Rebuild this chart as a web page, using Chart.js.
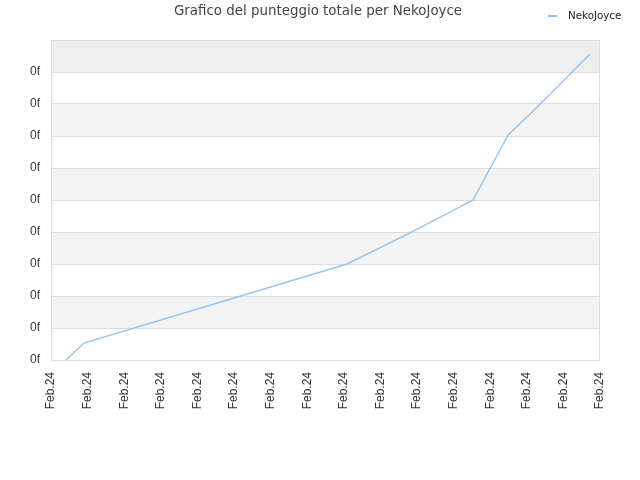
<!DOCTYPE html>
<html>
<head>
<meta charset="utf-8">
<script src="https://cdn.jsdelivr.net/npm/chart.js@4/dist/chart.umd.min.js"></script>
<style>
html,body{margin:0;padding:0;background:#fff;}
#wrap{width:640px;height:480px;}
</style>
</head>
<body>
<div id="wrap"><canvas id="c" width="640" height="480"></canvas></div>
<script>
const seriesName = "NekoJoyce";
const titleText = "Grafico del punteggio totale per NekoJoyce";
const xValues = [0.41, 0.90, 8.09, 9.81, 11.53, 12.49, 13.09, 14.73];
const yValues = [0, 0.53, 3.0, 3.97, 5.0, 7.03, 7.69, 9.56];
const xTickLabel = "Feb.24";
const yTickLabel = "0f";

const points = xValues.map((x, i) => ({x: x, y: yValues[i]}));

const bgPlugin = {
  id: 'bg',
  beforeDraw(chart) {
    const ctx = chart.ctx, a = chart.chartArea, y = chart.scales.y;
    ctx.save();
    for (let v = 0; v < 10; v++) {
      if (v % 2 === 1) {
        const top = y.getPixelForValue(v + 1), bot = y.getPixelForValue(v);
        ctx.fillStyle = v === 9 ? '#eeeeee' : '#f3f3f3';
        ctx.fillRect(a.left, top, a.right - a.left, bot - top);
      }
    }
    ctx.restore();
  },
  afterDraw(chart) {
    const ctx = chart.ctx, a = chart.chartArea;
    ctx.save();
    ctx.strokeStyle = '#dddddd';
    ctx.lineWidth = 1;
    ctx.strokeRect(a.left + 0.5, a.top + 0.5, a.right - a.left - 1, a.bottom - a.top);
    // title
    ctx.fillStyle = '#444444';
    ctx.font = '13.4px "DejaVu Sans"';
    ctx.textAlign = 'center';
    ctx.textBaseline = 'middle';
    ctx.fillText(titleText, 318, 12);
    // legend
    ctx.strokeStyle = '#90c4f4';
    ctx.lineWidth = 2;
    ctx.beginPath();
    ctx.moveTo(548, 16);
    ctx.lineTo(557, 16);
    ctx.stroke();
    ctx.fillStyle = '#222222';
    ctx.font = '10.3px "DejaVu Sans"';
    ctx.textAlign = 'left';
    ctx.textBaseline = 'alphabetic';
    ctx.fillText(chart.data.datasets[0].label, 568, 19);
    ctx.restore();
  }
};

new Chart(document.getElementById('c'), {
  type: 'line',
  data: {
    datasets: [{
      label: seriesName,
      data: points,
      borderColor: '#90c4f4',
      borderWidth: 1.4,
      pointRadius: 0,
      tension: 0,
      fill: false
    }]
  },
  options: {
    responsive: false,
    animation: false,
    devicePixelRatio: 1,
    layout: {padding: {top: 40, right: 40, left: 0, bottom: 0}},
    plugins: {legend: {display: false}, title: {display: false}, tooltip: {enabled: false}},
    scales: {
      x: {
        type: 'linear',
        min: 0, max: 15,
        afterFit(s) { s.height = 120; },
        border: {display: false},
        grid: {display: false, drawTicks: false},
        ticks: {
          stepSize: 1,
          autoSkip: false,
          maxRotation: 90, minRotation: 90,
          padding: 12,
          color: '#333333',
          font: {family: 'Liberation Sans', size: 12},
          callback: () => xTickLabel
        }
      },
      y: {
        min: 0, max: 10,
        afterFit(s) { s.width = 51; },
        border: {display: false},
        grid: {color: '#dddddd', drawTicks: false},
        ticks: {
          stepSize: 1,
          padding: 11,
          color: '#333333',
          font: {family: 'Liberation Sans', size: 12},
          callback: (v) => v >= 10 ? '' : yTickLabel
        }
      }
    }
  },
  plugins: [bgPlugin]
});
</script>
</body>
</html>
